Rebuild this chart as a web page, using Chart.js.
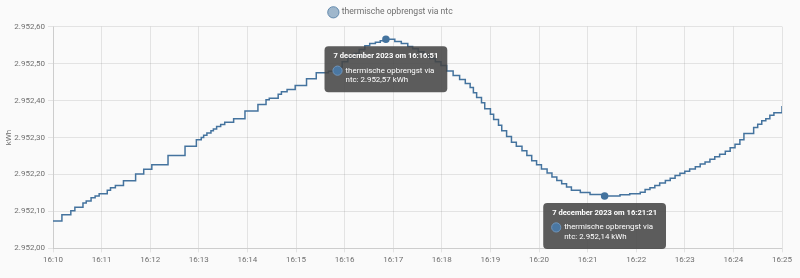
<!DOCTYPE html>
<html><head><meta charset="utf-8">
<script src="https://cdn.jsdelivr.net/npm/chart.js@4/dist/chart.umd.min.js"></script>
<style>
html,body{margin:0;padding:0;background:#fafafa;}
#wrap{width:800px;height:278px;position:relative;}
canvas{display:block;}
</style>
</head><body><div id="wrap"><canvas id="c" width="800" height="278" style="width:800px;height:278px"></canvas></div>
<script>
const seriesLabel = "thermische opbrengst via ntc";
const unit = "kWh";
const dateLabel = "7 december 2023";
const times = [
"16:10:00","16:10:11","16:10:22","16:10:27","16:10:37","16:10:41","16:10:47","16:10:52","16:10:57",
"16:11:07","16:11:11","16:11:17","16:11:27","16:11:42","16:11:52","16:12:02","16:12:22","16:12:43","16:12:57",
"16:13:03","16:13:06","16:13:10","16:13:15","16:13:18","16:13:22","16:13:27","16:13:32","16:13:43","16:13:57",
"16:14:13","16:14:23","16:14:27","16:14:38","16:14:42","16:14:49","16:14:59","16:15:13","16:15:25","16:15:40",
"16:15:49","16:15:57","16:16:04","16:16:12","16:16:18","16:16:25","16:16:31","16:16:38","16:16:44","16:16:51",
"16:17:02","16:17:10","16:17:18","16:17:24","16:17:31","16:17:38","16:17:45","16:17:52","16:17:59","16:18:06",
"16:18:14","16:18:22","16:18:29","16:18:35","16:18:39","16:18:43","16:18:49","16:18:53","16:19:00","16:19:04",
"16:19:10","16:19:14","16:19:20","16:19:26","16:19:32","16:19:39","16:19:45","16:19:51","16:19:57","16:20:03",
"16:20:10","16:20:16","16:20:22","16:20:28","16:20:34","16:20:40","16:20:51","16:21:03","16:21:21","16:21:40",
"16:21:52","16:22:05","16:22:11","16:22:17","16:22:23","16:22:29","16:22:36","16:22:42","16:22:48","16:22:54",
"16:23:00","16:23:06","16:23:13","16:23:19","16:23:25","16:23:31","16:23:37","16:23:43","16:23:50","16:23:56",
"16:24:02","16:24:08","16:24:13","16:24:25","16:24:30","16:24:35","16:24:40","16:24:45","16:24:50","16:25:00"
];
const values = [
2952.074,2952.091,2952.102,2952.111,2952.123,2952.128,2952.137,2952.142,2952.148,
2952.157,2952.164,2952.170,2952.183,2952.201,2952.214,2952.226,2952.251,2952.276,2952.294,
2952.300,2952.306,2952.312,2952.318,2952.323,2952.330,2952.335,2952.341,2952.351,2952.372,
2952.389,2952.402,2952.406,2952.417,2952.424,2952.430,2952.441,2952.459,2952.475,2952.479,
2952.490,2952.505,2952.515,2952.527,2952.538,2952.548,2952.554,2952.558,2952.562,2952.566,
2952.560,2952.554,2952.546,2952.540,2952.532,2952.523,2952.514,2952.505,2952.495,2952.480,
2952.468,2952.457,2952.446,2952.435,2952.421,2952.408,2952.394,2952.378,2952.363,2952.349,
2952.333,2952.318,2952.303,2952.287,2952.276,2952.264,2952.251,2952.237,2952.226,2952.215,
2952.204,2952.193,2952.184,2952.175,2952.166,2952.157,2952.151,2952.146,2952.142,2952.145,
2952.148,2952.152,2952.159,2952.164,2952.170,2952.177,2952.184,2952.190,2952.197,2952.203,
2952.209,2952.215,2952.221,2952.228,2952.234,2952.241,2952.248,2952.255,2952.263,2952.272,
2952.282,2952.294,2952.311,2952.327,2952.336,2952.345,2952.351,2952.360,2952.367,2952.385
];
const xTickLabels = ["16:10","16:11","16:12","16:13","16:14","16:15","16:16","16:17","16:18","16:19","16:20","16:21","16:22","16:23","16:24","16:25"];
const yTickValues = [2952.0,2952.1,2952.2,2952.3,2952.4,2952.5,2952.6];
const yTickLabels = ["2.952,00","2.952,10","2.952,20","2.952,30","2.952,40","2.952,50","2.952,60"];
const tooltipTimes = ["16:16:51","16:21:21"];

function toSec(t){const p=t.split(":").map(Number);return p[0]*3600+p[1]*60+(p[2]||0);}
function fmt(v){const s=v.toFixed(2).split(".");const i=s[0].replace(/\B(?=(\d{3})+(?!\d))/g,".");return i+","+s[1];}

const FONT = "Roboto";
const TXT = "#6f6f6f";
const LINE = "#44739e";

const fixedTips = {
  id:'fixedTips',
  afterDatasetsDraw(chart){
    const ctx = chart.ctx, xs = chart.scales.x, ys = chart.scales.y;
    tooltipTimes.forEach(t=>{
      const i = times.indexOf(t);
      const px = xs.getPixelForValue(toSec(t)), py = ys.getPixelForValue(values[i]);
      const title = dateLabel + " om " + t;
      const body = seriesLabel + ": " + fmt(values[i]) + " " + unit;
      ctx.save();
      const titleFont = "bold 7.6px " + FONT, bodyFont = "7.9px " + FONT;
      ctx.font = titleFont;
      const tw = ctx.measureText(title).width;
      ctx.font = bodyFont;
      const words = body.split(" "); const lines=[]; let cur="";
      words.forEach(w=>{const tst=cur?cur+" "+w:w; if(ctx.measureText(tst).width>90 && cur){lines.push(cur);cur=w;} else cur=tst;});
      if(cur) lines.push(cur);
      const bw = Math.max(...lines.map(l=>ctx.measureText(l).width));
      const pad = 9;
      const w = Math.max(tw, 12+bw) + 2*pad;
      const h = 46;
      const left = px - w/2, top = py + 7;
      ctx.fillStyle = "rgba(70,70,70,0.88)";
      ctx.beginPath();
      if (ctx.roundRect) ctx.roundRect(left, top, w, h, 4); else ctx.rect(left, top, w, h);
      ctx.fill();
      ctx.fillStyle = "#ffffff";
      ctx.textBaseline = "middle"; ctx.textAlign = "left";
      ctx.font = titleFont;
      ctx.fillText(title, left+pad, top+10);
      ctx.font = bodyFont;
      lines.forEach((l,k)=>ctx.fillText(l, left+21, top+24.5+k*9.6));
      ctx.beginPath(); ctx.arc(left+13, top+24.5, 4.6, 0, Math.PI*2);
      ctx.fillStyle = "#4a77a2"; ctx.fill();
      ctx.lineWidth = 1; ctx.strokeStyle = "#6f93b8"; ctx.stroke();
      ctx.restore();
    });
  }
};

new Chart(document.getElementById('c'), {
  type:'line',
  data:{datasets:[{
    label: seriesLabel,
    data: times.map((t,i)=>({x:toSec(t), y:values[i]})),
    stepped:'before',
    borderColor: LINE,
    backgroundColor:'rgba(68,115,158,0.5)',
    borderWidth:1.5,
    pointStyle:'circle',
    pointRadius: times.map(t=>tooltipTimes.includes(t)?3:0),
    pointBackgroundColor: LINE,
    pointBorderColor: LINE,
    fill:false
  }]},
  options:{
    responsive:false, animation:false, devicePixelRatio:1, events:[],
    layout:{padding:{top:0,right:18,bottom:10,left:0}},
    plugins:{
      legend:{position:'top', labels:{usePointStyle:true, boxHeight:8, boxWidth:8, padding:8, color:TXT, font:{family:FONT,size:8.6},
        generateLabels:(chart)=>{
          const items = Chart.defaults.plugins.legend.labels.generateLabels(chart);
          items.forEach(it=>{it.fillStyle='rgba(68,115,158,0.5)'; it.strokeStyle='rgba(68,115,158,0.75)'; it.lineWidth=1;});
          return items;
        }}},
      tooltip:{enabled:false}
    },
    scales:{
      x:{type:'linear', min:toSec("16:10:00"), max:toSec("16:25:00"),
        afterBuildTicks:(s)=>{s.ticks = xTickLabels.map(l=>({value:toSec(l+":00")}));},
        ticks:{autoSkip:false, maxRotation:0, color:TXT, font:{family:FONT,size:8}, padding:3,
          callback:(v,i)=>xTickLabels[i]},
        grid:{color:'rgba(0,0,0,0.09)', tickLength:4}
      },
      y:{min:2952.0, max:2952.6,
        afterBuildTicks:(s)=>{s.ticks = yTickValues.map(v=>({value:v}));},
        afterFit:(s)=>{s.width = 53;},
        ticks:{color:TXT, font:{family:FONT,size:8}, padding:3, callback:(v,i)=>yTickLabels[i]},
        grid:{color:'rgba(0,0,0,0.09)', tickLength:5},
        title:{display:true, text:unit, color:TXT, font:{family:FONT,size:8}}
      }
    }
  },
  plugins:[fixedTips]
});
</script>
</body></html>
